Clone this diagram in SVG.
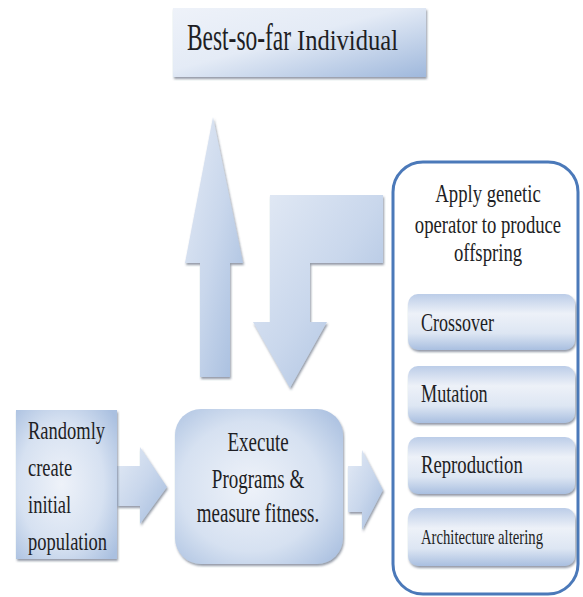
<svg xmlns="http://www.w3.org/2000/svg" width="583" height="597" viewBox="0 0 583 597">
  <style>
    text { font-family: "Liberation Serif", "DejaVu Serif", "Times New Roman", serif; fill: #1e1e24; }
    .c { text-anchor: middle; }
    .panel { fill: #ffffff; stroke: #4b79b9; stroke-width: 3; }
    .arrow { fill: url(#arrowFill); filter: url(#shadow); }
    .box { filter: url(#shadow); }
  </style>
  <defs>
    <linearGradient id="topFill" x1="0" y1="0" x2="1" y2="1">
      <stop offset="0" stop-color="#eef2f9"/>
      <stop offset="0.45" stop-color="#e4ebf6"/>
      <stop offset="1" stop-color="#9fb8dc"/>
    </linearGradient>
    <radialGradient id="boxFill" cx="0.45" cy="0.5" r="0.7">
      <stop offset="0" stop-color="#eef2f9"/>
      <stop offset="0.6" stop-color="#d6e1f1"/>
      <stop offset="1" stop-color="#aac0e0"/>
    </radialGradient>
    <linearGradient id="barFill" x1="0" y1="0" x2="0" y2="1">
      <stop offset="0" stop-color="#bccde8"/>
      <stop offset="0.35" stop-color="#edf1f8"/>
      <stop offset="0.7" stop-color="#dde6f3"/>
      <stop offset="1" stop-color="#a9bfe0"/>
    </linearGradient>
    <linearGradient id="arrowFill" x1="0" y1="0" x2="1" y2="1">
      <stop offset="0" stop-color="#e3eaf5"/>
      <stop offset="0.5" stop-color="#c9d7ec"/>
      <stop offset="1" stop-color="#a3bbdd"/>
    </linearGradient>
    <filter id="shadow" x="-10%" y="-10%" width="125%" height="125%">
      <feDropShadow dx="1" dy="2" stdDeviation="1.2" flood-color="#3a4a60" flood-opacity="0.55"/>
    </filter>
  </defs>

  <!-- connectors: block arrows -->
  <g id="connectors">
    <polygon class="arrow" points="213,117 243,263 230,263 230,377 200,377 200,263 185,263"/>
    <polygon class="arrow" points="383,195 270,195 270,322 253,322 290,388 327,322 310,322 310,263 383,263"/>
    <polygon class="arrow" points="117,466 140,466 140,447 167,487 140,524 140,506 117,506"/>
    <polygon class="arrow" points="348,466 362,466 362,450 383,490 362,530 362,512 348,512"/>
  </g>

  <g font-family="Liberation Serif, DejaVu Serif, serif">
    <!-- best-so-far result -->
    <g id="best">
      <rect class="box" x="173" y="8" width="253" height="69" fill="url(#topFill)"/>
      <text font-size="23.5" textLength="104" lengthAdjust="spacingAndGlyphs" transform="translate(187 50) scale(1 1.6)">Best-so-far</text>
      <text font-size="24" textLength="101" lengthAdjust="spacingAndGlyphs" transform="translate(297 50) scale(1 1.25)">Individual</text>
    </g>

    <!-- initial population -->
    <g id="random">
      <rect class="box" x="16" y="410" width="101" height="149" fill="url(#boxFill)"/>
      <text font-size="18.5" transform="translate(28 439) scale(1 1.4)">Randomly</text>
      <text font-size="18.5" transform="translate(28 476) scale(1 1.4)">create</text>
      <text font-size="18.5" transform="translate(28 513) scale(1 1.4)">initial</text>
      <text font-size="18.5" transform="translate(28 550) scale(1 1.4)">population</text>
    </g>

    <!-- evaluation -->
    <g id="execute">
      <rect class="box" x="175" y="409" width="168" height="155" rx="26" fill="url(#boxFill)"/>
      <text class="c" font-size="19" transform="translate(258 451) scale(1 1.4)">Execute</text>
      <text class="c" font-size="19" transform="translate(258 488) scale(1 1.4)">Programs &amp;</text>
      <text class="c" font-size="19" transform="translate(258 522) scale(1 1.4)">measure fitness.</text>
    </g>

    <!-- genetic operators -->
    <g id="operators">
      <rect class="panel" x="393" y="162" width="185" height="432" rx="30"/>
      <text class="c" font-size="18.7" transform="translate(488 202) scale(1 1.4)">Apply genetic</text>
      <text class="c" font-size="18.7" transform="translate(488 233) scale(1 1.4)">operator to produce</text>
      <text class="c" font-size="18.7" transform="translate(488 261) scale(1 1.4)">offspring</text>
      <g id="crossover">
        <rect class="box" x="408" y="294" width="167" height="56" rx="10" fill="url(#barFill)"/>
        <text font-size="18" transform="translate(421 331) scale(1 1.4)">Crossover</text>
      </g>
      <g id="mutation">
        <rect class="box" x="408" y="366" width="167" height="57" rx="10" fill="url(#barFill)"/>
        <text font-size="18.2" transform="translate(421 402) scale(1 1.4)">Mutation</text>
      </g>
      <g id="reproduction">
        <rect class="box" x="408" y="437" width="167" height="57" rx="10" fill="url(#barFill)"/>
        <text font-size="18.7" transform="translate(421 473) scale(1 1.4)">Reproduction</text>
      </g>
      <g id="architecture">
        <rect class="box" x="408" y="508" width="167" height="58" rx="10" fill="url(#barFill)"/>
        <text font-size="14.7" transform="translate(421 544) scale(1 1.4)">Architecture altering</text>
      </g>
    </g>
  </g>
</svg>
